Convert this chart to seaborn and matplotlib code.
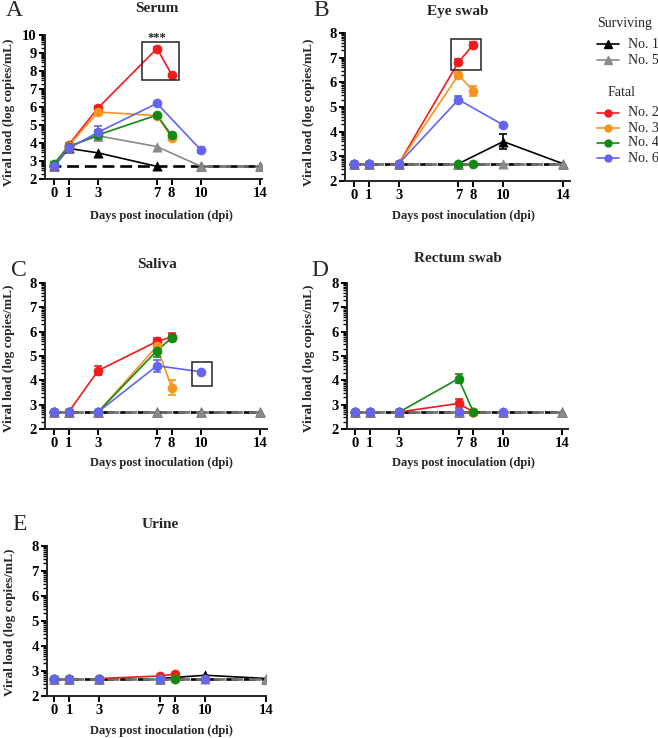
import numpy as np
import pandas as pd
import matplotlib
matplotlib.use("Agg")
import matplotlib.pyplot as plt
from matplotlib.lines import Line2D
from matplotlib.patches import Rectangle
import seaborn as sns

# ---------------- data ----------------
DAYS_SURV = [0, 1, 3, 7, 10, 14]      # No. 1, No. 5
DAYS_FATAL = [0, 1, 3, 7, 8]          # No. 2, No. 3, No. 4
DAYS_NO6 = [0, 1, 3, 7, 10]           # No. 6
XTICKS = [0, 1, 3, 7, 8, 10, 14]
LOD = 2.7

ANIMALS = ["No. 1", "No. 5", "No. 2", "No. 3", "No. 4", "No. 6"]
GROUP_SURV = ["No. 1", "No. 5"]
GROUP_FATAL = ["No. 2", "No. 3", "No. 4", "No. 6"]
COLORS = {"No. 1": "#000000", "No. 5": "#8a8a8a", "No. 2": "#ee1c1c",
          "No. 3": "#f7941d", "No. 4": "#138a13", "No. 6": "#6464ee"}
MARKERS = {"No. 1": "^", "No. 5": "^", "No. 2": "o", "No. 3": "o",
           "No. 4": "o", "No. 6": "o"}
DAYS = {"No. 1": DAYS_SURV, "No. 5": DAYS_SURV, "No. 2": DAYS_FATAL,
        "No. 3": DAYS_FATAL, "No. 4": DAYS_FATAL, "No. 6": DAYS_NO6}

# Serum
SERUM = {"No. 1": [2.7, 3.7, 3.45, 2.7, 2.7, 2.7],
         "No. 5": [2.8, 3.8, 4.4, 3.8, 2.7, 2.7],
         "No. 2": [2.7, 3.9, 5.95, 9.25, 7.8],
         "No. 3": [2.75, 3.85, 5.72, 5.52, 4.3],
         "No. 4": [2.85, 3.8, 4.45, 5.55, 4.42],
         "No. 6": [2.7, 3.7, 4.6, 6.2, 3.6]}
SERUM_ERR = {"No. 5": [0, 0, 0.3, 0, 0, 0],
             "No. 2": [0, 0.08, 0.08, 0.08, 0.05],
             "No. 3": [0, 0.05, 0.1, 0.05, 0.12],
             "No. 4": [0.08, 0.05, 0.3, 0.05, 0.12],
             "No. 6": [0, 0.05, 0.32, 0.05, 0.18]}

# Eye swab
EYE = {"No. 1": [2.7, 2.7, 2.7, 2.7, 3.6, 2.7],
       "No. 5": [2.7, 2.7, 2.7, 2.7, 2.7, 2.7],
       "No. 2": [2.7, 2.7, 2.7, 6.82, 7.53],
       "No. 3": [2.7, 2.7, 2.7, 6.3, 5.65],
       "No. 4": [2.7, 2.7, 2.7, 2.7, 2.7],
       "No. 6": [2.7, 2.7, 2.7, 5.3, 4.27]}
EYE_ERR = {"No. 1": [0, 0, 0, 0, 0.32, 0],
           "No. 2": [0, 0, 0, 0.12, 0.12],
           "No. 3": [0, 0, 0, 0.12, 0.22],
           "No. 6": [0, 0, 0, 0.15, 0.08]}

# Saliva
SALIVA = {"No. 1": [2.7, 2.7, 2.7, 2.7, 2.7, 2.7],
          "No. 5": [2.7, 2.7, 2.7, 2.7, 2.7, 2.7],
          "No. 2": [2.7, 2.7, 4.4, 5.6, 5.78],
          "No. 3": [2.7, 2.7, 2.7, 5.4, 3.7],
          "No. 4": [2.7, 2.7, 2.7, 5.22, 5.75],
          "No. 6": [2.7, 2.7, 2.7, 4.6, 4.35]}
SALIVA_ERR = {"No. 2": [0, 0, 0.18, 0.15, 0.15],
              "No. 3": [0, 0, 0, 0.1, 0.3],
              "No. 4": [0, 0, 0, 0.25, 0.1],
              "No. 6": [0, 0, 0, 0.25, 0.05]}

# Rectum swab
RECTUM = {"No. 1": [2.7, 2.7, 2.7, 2.7, 2.7, 2.7],
          "No. 5": [2.7, 2.7, 2.7, 2.7, 2.7, 2.7],
          "No. 2": [2.7, 2.7, 2.7, 3.05, 2.7],
          "No. 3": [2.7, 2.7, 2.7, 2.7, 2.7],
          "No. 4": [2.7, 2.7, 2.7, 4.07, 2.7],
          "No. 6": [2.7, 2.7, 2.7, 2.7, 2.7]}
RECTUM_ERR = {"No. 2": [0, 0, 0, 0.2, 0],
              "No. 4": [0, 0, 0, 0.17, 0]}

# Urine
URINE = {"No. 1": [2.7, 2.7, 2.7, 2.7, 2.83, 2.7],
         "No. 5": [2.7, 2.7, 2.7, 2.7, 2.7, 2.7],
         "No. 2": [2.7, 2.7, 2.7, 2.8, 2.88],
         "No. 3": [2.7, 2.7, 2.7, 2.7, 2.7],
         "No. 4": [2.7, 2.7, 2.7, 2.7, 2.7],
         "No. 6": [2.7, 2.7, 2.7, 2.7, 2.7]}
URINE_ERR = {}

# highlight boxes (x0, x1, y0, y1) and significance label
SERUM_BOX = (6.0, 8.5, 7.5, 9.6)
EYE_BOX = (6.5, 8.5, 6.5, 7.76)
SALIVA_BOX = (9.4, 10.75, 3.77, 4.75)
SERUM_STARS = (7.0, 9.85, "***")

# ---------------- style ----------------
sns.set_theme(style="ticks")
plt.rcParams["font.family"] = ["Liberation Serif", "DejaVu Serif"]
plt.rcParams["axes.linewidth"] = 1.4

W, H = 658, 738
fig = plt.figure(figsize=(W / 100, H / 100), dpi=100)


def fx(x):
    return x / W


def fy(y):
    return 1 - y / H


def make_ax(left, right, top, bottom):
    return fig.add_axes([fx(left), fy(bottom), fx(right) - fx(left),
                         (bottom - top) / H])


def lod_runs(xs, ys, dashed):
    """Index runs: solid runs skip LOD-LOD segments; dashed runs keep only them."""
    runs, cur = [], [0]
    for i in range(1, len(xs)):
        both = ys[i - 1] == LOD and ys[i] == LOD
        keep = both if dashed else not both
        if keep:
            cur.append(i)
        else:
            if len(cur) > 1:
                runs.append(cur)
            cur = [i]
    if len(cur) > 1:
        runs.append(cur)
    return runs


def draw_panel(ax, data, errs, xlim, ylim, title, letter, title_xy, letter_xy,
               ylab_xy, xlab_xy, box=None, stars=None):
    ax.plot([-0.35, 14], [LOD, LOD], color="black", lw=1.9,
            dashes=(4.5, 2.2), zorder=2, solid_capstyle="butt")
    for z, name in enumerate(ANIMALS):
        xs = DAYS[name]
        ys = data[name]
        col = COLORS[name]
        for run in lod_runs(xs, ys, dashed=False):
            df = pd.DataFrame({"day": [xs[i] for i in run],
                               "load": [ys[i] for i in run]})
            sns.lineplot(data=df, x="day", y="load", ax=ax, color=col,
                         linewidth=1.2, estimator=None, sort=False,
                         zorder=3 + z)
        if name == "No. 5":
            for run in lod_runs(xs, ys, dashed=True):
                df = pd.DataFrame({"day": [xs[i] for i in run],
                                   "load": [ys[i] for i in run]})
                sns.lineplot(data=df, x="day", y="load", ax=ax, color="#707070",
                             linewidth=1.9, estimator=None, sort=False,
                             dashes=False, zorder=3 + z).lines[-1].set_dashes((4.5, 2.2))
        if name in errs:
            e = errs[name]
            idx = [i for i in range(len(xs)) if e[i] > 0]
            if idx:
                ax.errorbar([xs[i] for i in idx], [ys[i] for i in idx],
                            yerr=[e[i] for i in idx], fmt="none", ecolor=col,
                            elinewidth=1.2, capsize=3, capthick=1.2,
                            zorder=3 + z)
        dfm = pd.DataFrame({"day": xs, "load": ys})
        sns.scatterplot(data=dfm, x="day", y="load", ax=ax, color=col,
                        marker=MARKERS[name], s=42 if MARKERS[name] == "o" else 44,
                        edgecolor=col, linewidth=0.5, zorder=10 + z,
                        legend=False)
    if box is not None:
        x0, x1, y0, y1 = box
        ax.add_patch(Rectangle((x0, y0), x1 - x0, y1 - y0, fill=False,
                               edgecolor="#222222", lw=1.1, zorder=20,
                               clip_on=False))
    if stars is not None:
        ax.text(stars[0], stars[1], stars[2], ha="center", va="center",
                fontsize=9, fontweight="bold", color="#222222")
    ax.set_xlim(*xlim)
    ax.set_ylim(*ylim)
    ax.set_xticks(XTICKS)
    ax.set_xticklabels([str(t) for t in XTICKS])
    ax.set_yticks(range(ylim[0], ylim[1] + 1))
    minors = [k + np.log10(m) for k in range(ylim[0], ylim[1]) for m in range(2, 10)]
    ax.set_yticks(minors, minor=True)
    ax.tick_params(axis="both", which="major", direction="out", length=4,
                   width=1.4, labelsize=10.5, pad=2, colors="black")
    ax.tick_params(axis="y", which="minor", direction="out", length=3,
                   width=1.0, colors="black")
    for lab in ax.get_xticklabels() + ax.get_yticklabels():
        lab.set_fontweight("bold")
    ax.set_xlabel("")
    ax.set_ylabel("")
    sns.despine(ax=ax)
    ax.set_facecolor("none")
    fig.text(fx(title_xy[0]), fy(title_xy[1]), title, ha="center",
             va="center", fontsize=11, fontweight="bold")
    fig.text(fx(letter_xy[0]), fy(letter_xy[1]), letter, ha="center",
             va="center", fontsize=17)
    fig.text(fx(ylab_xy[0]), fy(ylab_xy[1]), "Viral load (log copies/mL)",
             ha="center", va="center", rotation=90, fontsize=9.5,
             fontweight="bold")
    fig.text(fx(xlab_xy[0]), fy(xlab_xy[1]), "Days post inoculation (dpi)",
             ha="center", va="center", fontsize=9, fontweight="bold")


axA = make_ax(45, 262, 35, 179)
draw_panel(axA, SERUM, SERUM_ERR, (-0.61, 14.14), (2, 10), "Serum", "A",
           (157, 9), (14, 10), (9, 112), (161, 216),
           box=SERUM_BOX, stars=SERUM_STARS)

axB = make_ax(345, 570, 33, 181)
draw_panel(axB, EYE, EYE_ERR, (-0.6, 14.47), (2, 8), "Eye swab", "B",
           (458, 11), (321, 10), (309, 112), (463, 216), box=EYE_BOX)

axC = make_ax(45, 267, 283, 429)
draw_panel(axC, SALIVA, SALIVA_ERR, (-0.61, 14.48), (2, 8), "Saliva", "C",
           (157, 265), (19, 270), (9, 358), (161, 463), box=SALIVA_BOX)

axD = make_ax(347, 568, 283, 429)
draw_panel(axD, RECTUM, RECTUM_ERR, (-0.54, 14.4), (2, 8), "Rectum swab", "D",
           (458, 259), (320, 270), (309, 358), (463, 463))

axE = make_ax(47, 266, 546, 696)
draw_panel(axE, URINE, URINE_ERR, (-0.46, 14.0), (2, 8), "Urine", "E",
           (160, 525), (20, 525), (10, 622), (161, 731))

# ---------------- legend ----------------
def legend_group(title, title_xy, names, rows):
    fig.text(fx(title_xy[0]), fy(title_xy[1]), title, ha="center",
             va="center", fontsize=10)
    for name, y in zip(names, rows):
        col = COLORS[name]
        fig.add_artist(Line2D([fx(597), fx(619)], [fy(y), fy(y)],
                              transform=fig.transFigure, color=col, lw=1.2))
        fig.add_artist(Line2D([fx(608)], [fy(y)], transform=fig.transFigure,
                              color=col, marker=MARKERS[name],
                              markersize=5 if MARKERS[name] == "o" else 5.5,
                              lw=0))
        fig.text(fx(628), fy(y), name, ha="left", va="center", fontsize=10)


legend_group("Surviving", (625, 24), GROUP_SURV, [44, 60])
legend_group("Fatal", (622, 92), GROUP_FATAL, [113, 128, 143, 158])

fig.savefig("out.png", dpi=100)
